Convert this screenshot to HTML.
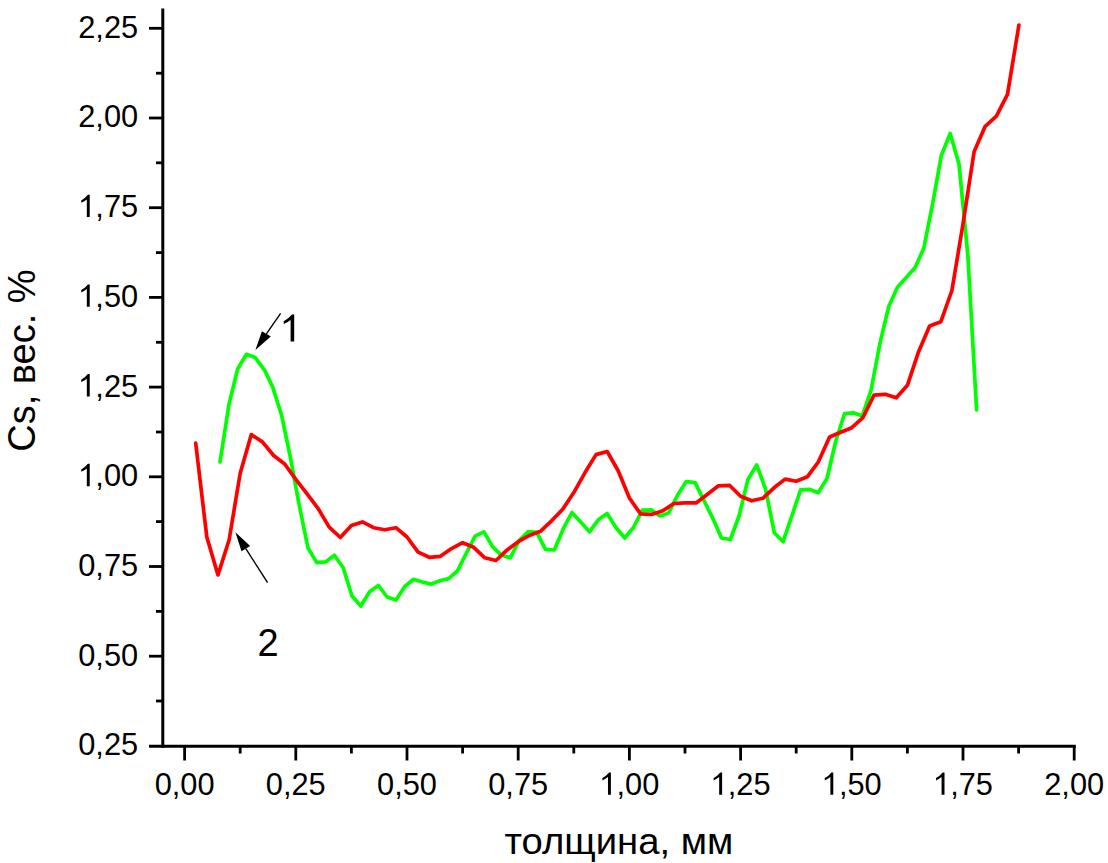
<!DOCTYPE html>
<html><head><meta charset="utf-8"><style>
html,body{margin:0;padding:0;background:#fff;}
svg{display:block;}
text{font-family:"Liberation Sans", sans-serif;fill:#000;}
</style></head><body>
<svg width="1108" height="863" viewBox="0 0 1108 863">
<rect width="1108" height="863" fill="#fff"/>
<polyline points="220.0,462.0 229.0,404.3 237.6,369.1 246.4,354.3 255.2,357.5 264.7,370.3 272.8,387.4 281.6,415.2 290.4,457.5 299.2,505.0 308.0,548.0 316.8,562.6 325.6,561.9 334.4,555.3 343.2,567.8 352.0,596.0 360.8,606.0 369.6,591.8 378.4,585.5 387.2,597.0 396.0,600.1 404.8,586.5 413.5,579.3 422.3,582.0 431.1,584.1 439.9,580.7 448.7,578.6 457.5,570.9 466.3,553.2 475.1,536.1 483.9,531.9 492.7,546.9 501.5,555.3 510.3,557.8 519.1,540.6 527.9,531.7 536.7,532.3 545.5,549.4 554.3,550.0 563.1,529.2 571.9,512.5 580.7,521.9 589.5,531.9 598.3,519.8 607.1,513.5 615.9,527.5 624.7,538.0 633.5,527.5 642.3,510.2 651.1,509.8 659.9,516.0 668.7,512.9 677.5,495.2 686.3,481.6 695.1,482.6 703.9,500.4 712.7,518.1 721.5,538.0 730.3,539.5 739.1,516.0 747.9,479.5 756.7,464.9 765.5,488.9 774.3,532.7 783.1,541.7 791.8,516.0 800.6,489.9 809.4,489.3 818.2,492.7 827.0,478.5 835.8,441.0 844.6,413.5 853.4,412.8 862.2,416.0 871.0,390.5 879.8,344.0 888.6,307.0 897.4,287.3 906.2,277.5 915.0,267.8 923.8,248.2 932.6,203.9 941.4,155.2 950.2,133.5 959.0,164.0 967.8,254.6 976.6,410.0" fill="none" stroke="#00ff00" stroke-width="3.7" stroke-linejoin="round" stroke-linecap="round"/>
<polyline points="195.7,443.1 206.8,536.9 218.0,574.9 229.1,540.0 240.2,473.2 251.3,434.6 262.4,441.9 273.6,455.5 284.7,464.0 295.8,479.3 306.9,493.7 318.0,508.3 329.2,527.1 340.3,537.5 351.4,525.6 362.5,521.9 373.6,527.7 384.8,529.8 395.9,527.7 407.0,537.0 418.1,552.1 429.2,557.3 440.4,556.3 451.5,548.6 462.6,542.7 473.7,547.3 484.8,557.8 496.0,560.5 507.1,549.9 518.2,541.7 529.3,535.4 540.4,531.3 551.6,520.8 562.7,509.3 573.8,492.6 584.9,472.8 596.0,454.6 607.2,451.5 618.3,471.0 629.4,498.0 640.5,513.9 651.6,514.4 662.8,510.8 673.9,503.5 685.0,502.9 696.1,502.9 707.2,494.5 718.4,485.8 729.5,485.3 740.6,496.2 751.7,500.8 762.8,498.3 774.0,487.8 785.1,479.1 796.2,481.2 807.3,476.8 818.4,461.8 829.6,437.0 840.7,432.2 851.8,427.7 862.9,417.7 874.0,395.1 885.2,394.3 896.3,397.8 907.4,385.3 918.5,351.9 929.6,326.0 940.8,321.8 951.9,290.5 963.0,224.0 974.1,151.7 985.2,126.3 996.4,116.1 1007.5,94.4 1018.9,25.0" fill="none" stroke="#ff0000" stroke-width="3.7" stroke-linejoin="round" stroke-linecap="round"/>
<line x1="162.8" y1="8.5" x2="162.8" y2="747.7" stroke="#000" stroke-width="3"/>
<line x1="149" y1="746.2" x2="1075.8" y2="746.2" stroke="#000" stroke-width="3"/>
<line x1="149" y1="28.3" x2="162.8" y2="28.3" stroke="#000" stroke-width="2.8"/>
<line x1="156" y1="73.2" x2="162.8" y2="73.2" stroke="#000" stroke-width="2.8"/>
<text transform="translate(78.25,37.70) scale(1,1.015)" font-size="30.8">2,25</text>
<line x1="149" y1="118.0" x2="162.8" y2="118.0" stroke="#000" stroke-width="2.8"/>
<line x1="156" y1="162.8" x2="162.8" y2="162.8" stroke="#000" stroke-width="2.8"/>
<text transform="translate(78.25,127.40) scale(1,1.015)" font-size="30.8">2,00</text>
<line x1="149" y1="207.7" x2="162.8" y2="207.7" stroke="#000" stroke-width="2.8"/>
<line x1="156" y1="252.6" x2="162.8" y2="252.6" stroke="#000" stroke-width="2.8"/>
<text transform="translate(78.25,217.10) scale(1,1.015)" font-size="30.8"> ,75</text><path d="M86.81,217.10 L89.73,217.10 L89.73,194.72 L87.88,194.72 Q85.32,198.02 81.22,200.40 L81.22,202.72 Q84.57,201.38 86.81,199.41 Z" fill="#000"/>
<line x1="149" y1="297.4" x2="162.8" y2="297.4" stroke="#000" stroke-width="2.8"/>
<line x1="156" y1="342.3" x2="162.8" y2="342.3" stroke="#000" stroke-width="2.8"/>
<text transform="translate(78.25,306.80) scale(1,1.015)" font-size="30.8"> ,50</text><path d="M86.81,306.80 L89.73,306.80 L89.73,284.42 L87.88,284.42 Q85.32,287.72 81.22,290.10 L81.22,292.42 Q84.57,291.08 86.81,289.11 Z" fill="#000"/>
<line x1="149" y1="387.1" x2="162.8" y2="387.1" stroke="#000" stroke-width="2.8"/>
<line x1="156" y1="432.0" x2="162.8" y2="432.0" stroke="#000" stroke-width="2.8"/>
<text transform="translate(78.25,396.50) scale(1,1.015)" font-size="30.8"> ,25</text><path d="M86.81,396.50 L89.73,396.50 L89.73,374.12 L87.88,374.12 Q85.32,377.42 81.22,379.80 L81.22,382.12 Q84.57,380.78 86.81,378.81 Z" fill="#000"/>
<line x1="149" y1="476.8" x2="162.8" y2="476.8" stroke="#000" stroke-width="2.8"/>
<line x1="156" y1="521.6" x2="162.8" y2="521.6" stroke="#000" stroke-width="2.8"/>
<text transform="translate(78.25,486.20) scale(1,1.015)" font-size="30.8"> ,00</text><path d="M86.81,486.20 L89.73,486.20 L89.73,463.82 L87.88,463.82 Q85.32,467.12 81.22,469.50 L81.22,471.82 Q84.57,470.48 86.81,468.51 Z" fill="#000"/>
<line x1="149" y1="566.5" x2="162.8" y2="566.5" stroke="#000" stroke-width="2.8"/>
<line x1="156" y1="611.4" x2="162.8" y2="611.4" stroke="#000" stroke-width="2.8"/>
<text transform="translate(78.25,575.90) scale(1,1.015)" font-size="30.8">0,75</text>
<line x1="149" y1="656.2" x2="162.8" y2="656.2" stroke="#000" stroke-width="2.8"/>
<line x1="156" y1="701.0" x2="162.8" y2="701.0" stroke="#000" stroke-width="2.8"/>
<text transform="translate(78.25,665.60) scale(1,1.015)" font-size="30.8">0,50</text>
<text transform="translate(78.25,755.30) scale(1,1.015)" font-size="30.8">0,25</text>
<line x1="184.6" y1="746.2" x2="184.6" y2="760.5" stroke="#000" stroke-width="2.8"/>
<line x1="240.2" y1="746.2" x2="240.2" y2="753.5" stroke="#000" stroke-width="2.8"/>
<text transform="translate(154.63,794.80) scale(1,1.015)" font-size="30.8">0,00</text>
<line x1="295.8" y1="746.2" x2="295.8" y2="760.5" stroke="#000" stroke-width="2.8"/>
<line x1="351.4" y1="746.2" x2="351.4" y2="753.5" stroke="#000" stroke-width="2.8"/>
<text transform="translate(265.83,794.80) scale(1,1.015)" font-size="30.8">0,25</text>
<line x1="407.0" y1="746.2" x2="407.0" y2="760.5" stroke="#000" stroke-width="2.8"/>
<line x1="462.6" y1="746.2" x2="462.6" y2="753.5" stroke="#000" stroke-width="2.8"/>
<text transform="translate(377.03,794.80) scale(1,1.015)" font-size="30.8">0,50</text>
<line x1="518.2" y1="746.2" x2="518.2" y2="760.5" stroke="#000" stroke-width="2.8"/>
<line x1="573.8" y1="746.2" x2="573.8" y2="753.5" stroke="#000" stroke-width="2.8"/>
<text transform="translate(488.23,794.80) scale(1,1.015)" font-size="30.8">0,75</text>
<line x1="629.4" y1="746.2" x2="629.4" y2="760.5" stroke="#000" stroke-width="2.8"/>
<line x1="685.0" y1="746.2" x2="685.0" y2="753.5" stroke="#000" stroke-width="2.8"/>
<text transform="translate(599.43,794.80) scale(1,1.015)" font-size="30.8"> ,00</text><path d="M607.98,794.80 L610.90,794.80 L610.90,772.42 L609.05,772.42 Q606.50,775.72 602.39,778.10 L602.39,780.42 Q605.74,779.08 607.98,777.11 Z" fill="#000"/>
<line x1="740.6" y1="746.2" x2="740.6" y2="760.5" stroke="#000" stroke-width="2.8"/>
<line x1="796.2" y1="746.2" x2="796.2" y2="753.5" stroke="#000" stroke-width="2.8"/>
<text transform="translate(710.63,794.80) scale(1,1.015)" font-size="30.8"> ,25</text><path d="M719.18,794.80 L722.10,794.80 L722.10,772.42 L720.25,772.42 Q717.70,775.72 713.59,778.10 L713.59,780.42 Q716.94,779.08 719.18,777.11 Z" fill="#000"/>
<line x1="851.8" y1="746.2" x2="851.8" y2="760.5" stroke="#000" stroke-width="2.8"/>
<line x1="907.4" y1="746.2" x2="907.4" y2="753.5" stroke="#000" stroke-width="2.8"/>
<text transform="translate(821.83,794.80) scale(1,1.015)" font-size="30.8"> ,50</text><path d="M830.38,794.80 L833.30,794.80 L833.30,772.42 L831.45,772.42 Q828.90,775.72 824.79,778.10 L824.79,780.42 Q828.14,779.08 830.38,777.11 Z" fill="#000"/>
<line x1="963.0" y1="746.2" x2="963.0" y2="760.5" stroke="#000" stroke-width="2.8"/>
<line x1="1018.6" y1="746.2" x2="1018.6" y2="753.5" stroke="#000" stroke-width="2.8"/>
<text transform="translate(933.03,794.80) scale(1,1.015)" font-size="30.8"> ,75</text><path d="M941.58,794.80 L944.50,794.80 L944.50,772.42 L942.65,772.42 Q940.10,775.72 935.99,778.10 L935.99,780.42 Q939.34,779.08 941.58,777.11 Z" fill="#000"/>
<line x1="1074.2" y1="746.2" x2="1074.2" y2="760.5" stroke="#000" stroke-width="2.8"/>
<text transform="translate(1044.23,794.80) scale(1,1.015)" font-size="30.8">2,00</text>
<text transform="translate(618.9,853.8) scale(1,0.975)" text-anchor="middle" font-size="38.25">толщина, мм</text>
<text transform="translate(35.2,360.6) rotate(-90)" text-anchor="middle" font-size="38">Cs, вес. %</text>
<path d="M290.60,341.60 L294.20,341.60 L294.20,314.40 L291.92,314.40 Q288.76,318.41 283.70,321.30 L283.70,324.12 Q287.84,322.49 290.60,320.10 Z" fill="#000"/>
<text x="268" y="655.6" text-anchor="middle" font-size="38">2</text>
<line x1="280.6" y1="313.4" x2="266.4" y2="333.9" stroke="#000" stroke-width="1.4"/><polygon points="255.4,349.9 261.9,331.2 270.8,336.5" fill="#000"/>
<line x1="267.6" y1="582.6" x2="245.8" y2="548.7" stroke="#000" stroke-width="1.4"/><polygon points="235.4,532.2 241.5,551.3 250.2,546.1" fill="#000"/>
</svg>
</body></html>
